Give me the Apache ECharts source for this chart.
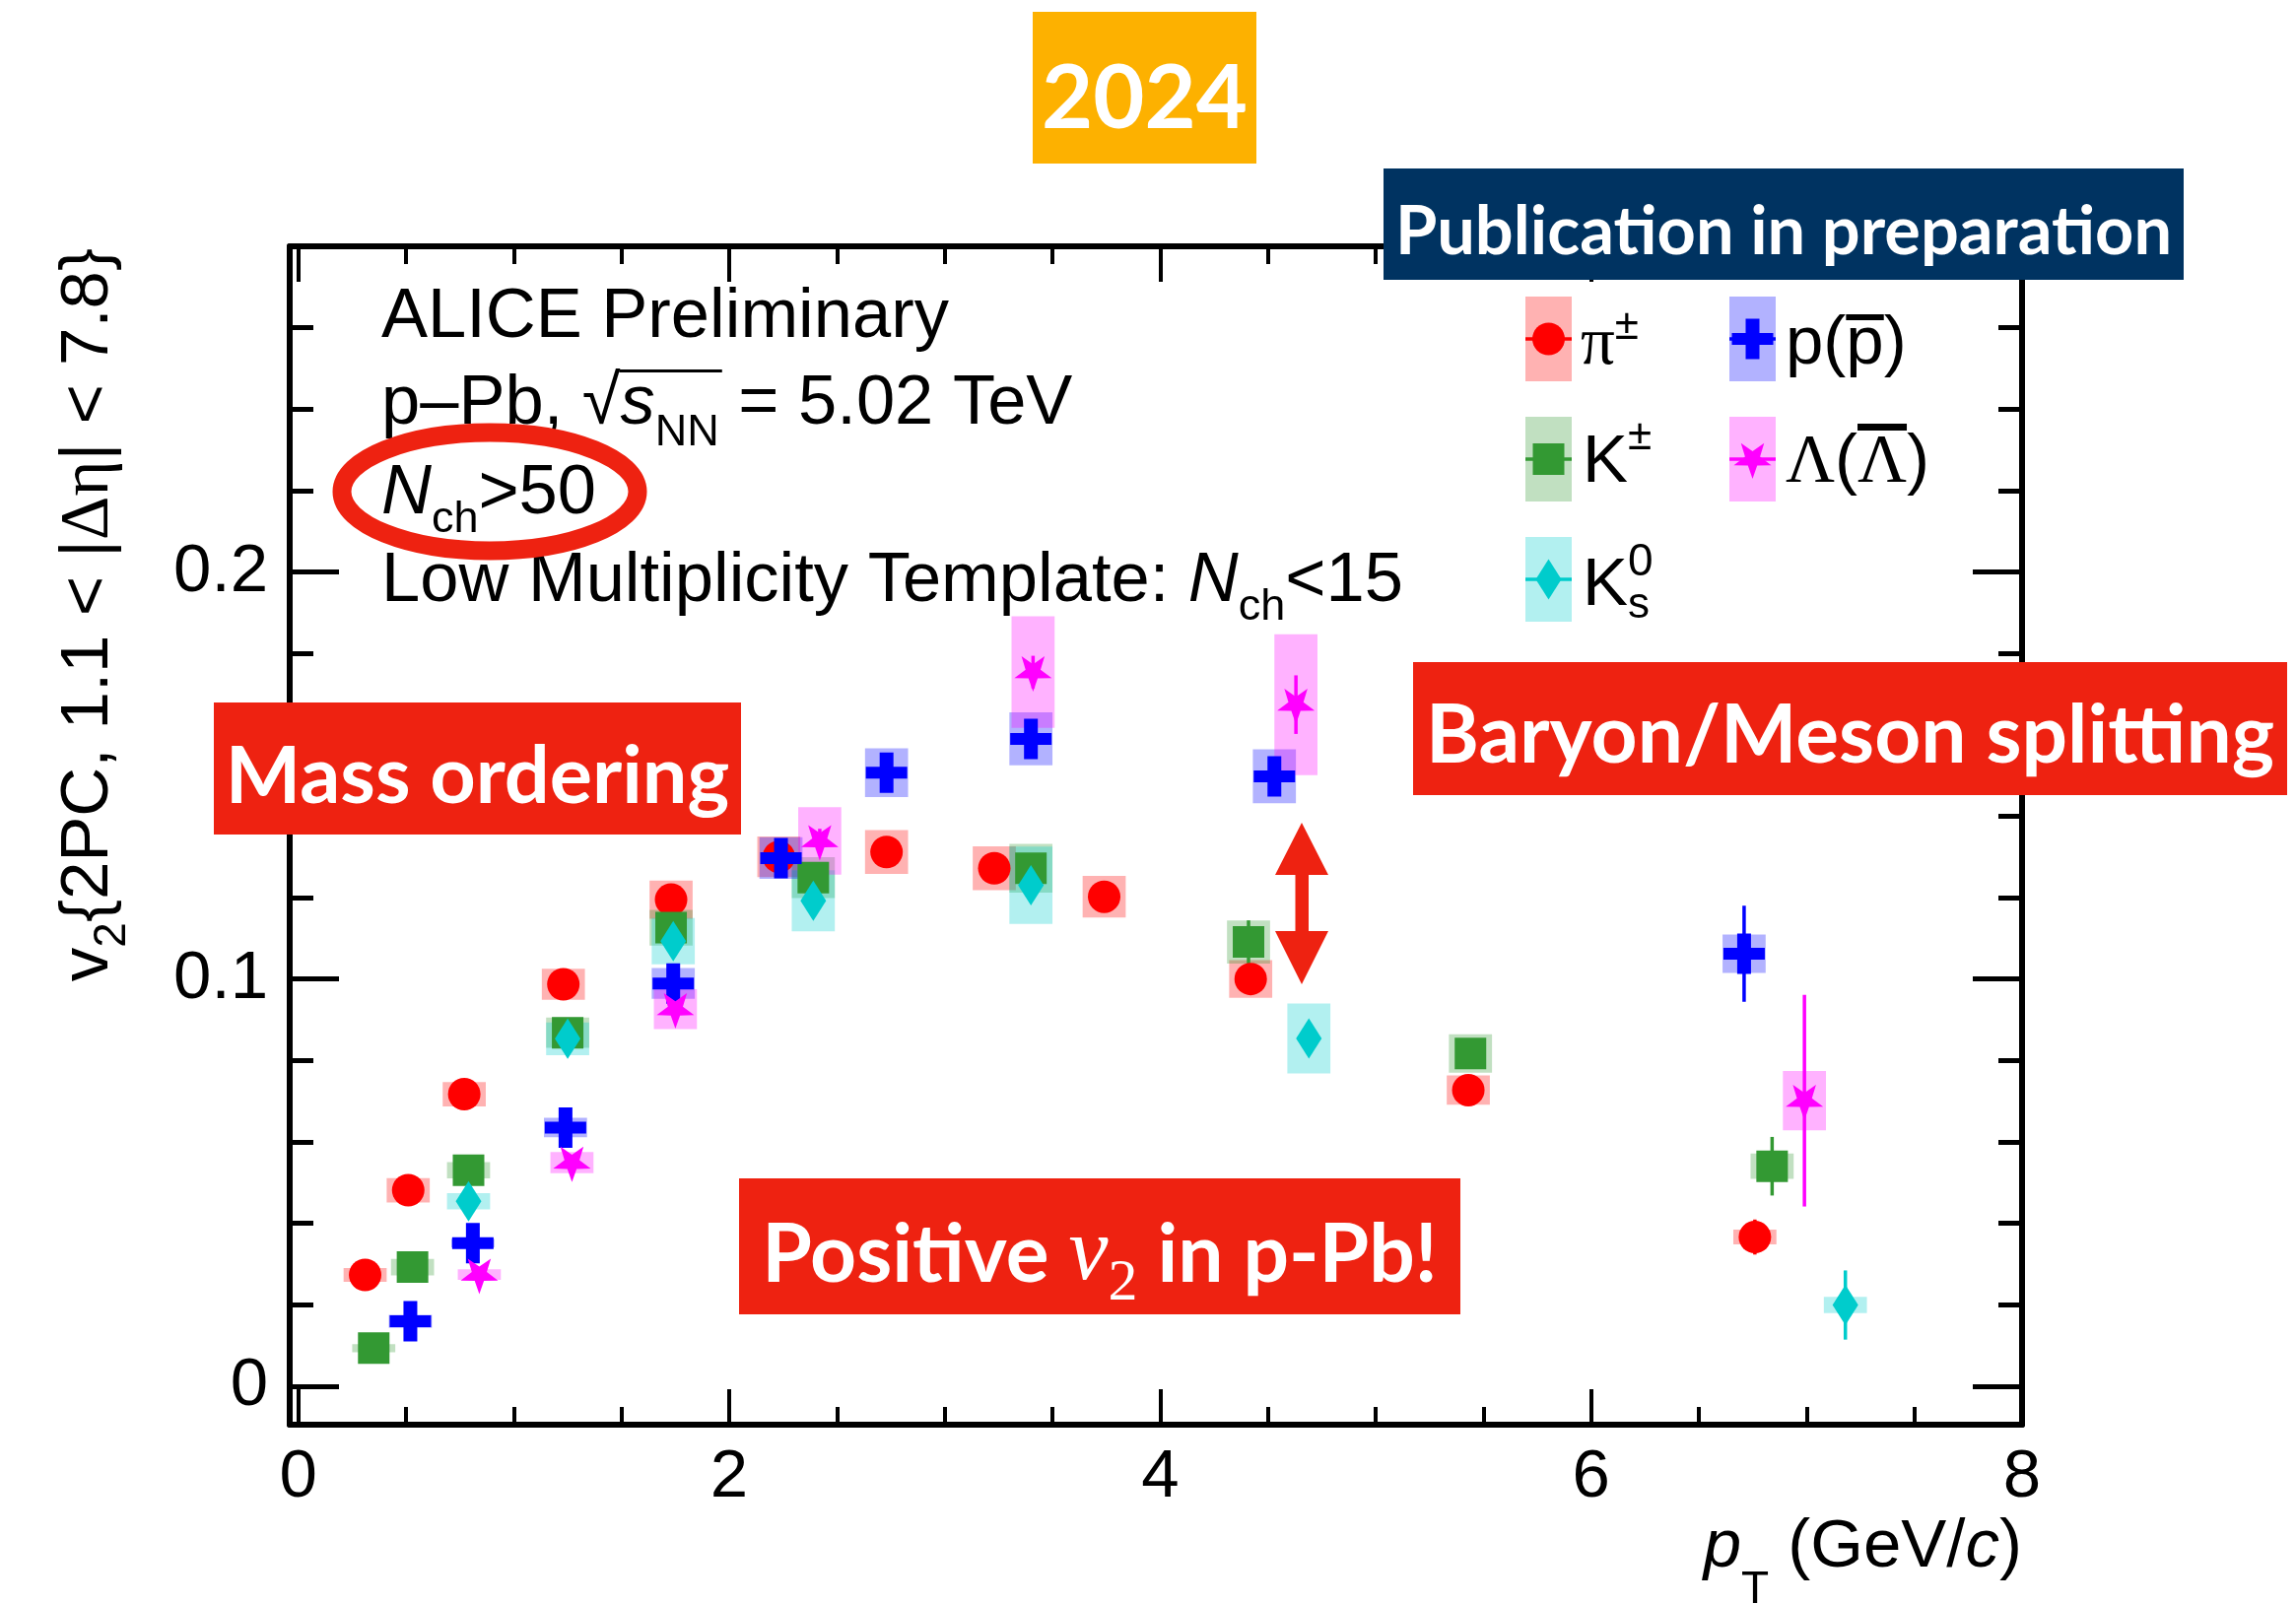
<!DOCTYPE html>
<html>
<head>
<meta charset="utf-8">
<title>ALICE v2 p-Pb</title>
<script src="https://cdn.jsdelivr.net/npm/echarts@6/dist/echarts.min.js"></script>
<style>
html,body{margin:0;padding:0;background:#ffffff;}
#chart{width:2330px;height:1628px;}
</style>
</head>
<body>
<div id="chart"></div>
<script>
// ================= DATA =================
const xTickValues = [0, 2, 4, 6, 8];
const xTickLabels = ['0', '2', '4', '6', '8'];
const xMinorTicks = [0.5, 1, 1.5, 2.5, 3, 3.5, 4.5, 5, 5.5, 6.5, 7, 7.5];
const yTickValues = [0, 0.1, 0.2];
const yTickLabels = ['0', '0.1', '0.2'];
const yMinorTicks = [0.02, 0.04, 0.06, 0.08, 0.12, 0.14, 0.16, 0.18, 0.22, 0.24, 0.26];

// pi+-
const piPt   = [0.31, 0.51, 0.77, 1.23, 1.73, 2.23, 2.73, 3.23, 3.74, 4.42, 5.43, 6.76];
const piV2   = [0.0273, 0.0481, 0.0717, 0.0987, 0.1195, 0.1300, 0.1312, 0.1272, 0.1202, 0.1000, 0.0727, 0.0366];
const piStat = [0.0005, 0.0006, 0.0007, 0.0008, 0.0010, 0.0012, 0.0014, 0.0017, 0.0020, 0.0025, 0.0030, 0.0043];
const piSys  = [0.0017, 0.0030, 0.0030, 0.0038, 0.0047, 0.0050, 0.0054, 0.0054, 0.0051, 0.0046, 0.0036, 0.0018];
// K+-
const kchPt   = [0.35, 0.53, 0.79, 1.25, 1.73, 2.39, 3.40, 4.41, 5.44, 6.84];
const kchV2   = [0.0093, 0.0292, 0.0530, 0.0868, 0.1126, 0.1249, 0.1272, 0.1091, 0.0817, 0.0540];
const kchStat = [0.0005, 0.0006, 0.0008, 0.0010, 0.0012, 0.0015, 0.0020, 0.0053, 0.0030, 0.0072];
const kchSys  = [0.0010, 0.0020, 0.0020, 0.0037, 0.0044, 0.0050, 0.0060, 0.0053, 0.0047, 0.0031];
// K0s
const k0Pt   = [0.79, 1.25, 1.74, 2.39, 3.40, 4.69, 7.18];
const k0V2   = [0.0454, 0.0853, 0.1093, 0.1192, 0.1230, 0.0854, 0.0199];
const k0Stat = [0.0010, 0.0015, 0.0020, 0.0025, 0.0030, 0.0040, 0.0085];
const k0Sys  = [0.0020, 0.0040, 0.0057, 0.0075, 0.0095, 0.0086, 0.0020];
// p(pbar)
const pPt   = [0.52, 0.81, 1.24, 1.74, 2.24, 2.73, 3.40, 4.53, 6.71];
const pV2   = [0.0159, 0.0351, 0.0635, 0.0989, 0.1297, 0.1507, 0.1590, 0.1498, 0.1062];
const pStat = [0.0008, 0.0010, 0.0012, 0.0015, 0.0020, 0.0025, 0.0030, 0.0045, 0.0118];
const pSys  = [0.0016, 0.0010, 0.0024, 0.0038, 0.0051, 0.0060, 0.0065, 0.0066, 0.0047];
// Lambda
const lamPt   = [0.84, 1.27, 1.75, 2.42, 3.41, 4.63, 6.99];
const lamV2   = [0.0274, 0.0549, 0.0926, 0.1339, 0.1754, 0.1674, 0.0701];
const lamStat = [0.0010, 0.0015, 0.0020, 0.0030, 0.0040, 0.0072, 0.0260];
const lamSys  = [0.0013, 0.0026, 0.0049, 0.0083, 0.0137, 0.0173, 0.0073];

const legendLabels = ['π±', 'K±', 'K0s', 'p(p̄)', 'Λ(Λ̄)'];

// ================= STYLE =================
const XMIN = -0.04, XMAX = 8, YMIN = -0.0095, YMAX = 0.28;
const BOX_HALF = 0.1;           // half width of systematic boxes (GeV/c)
const SANS = 'Liberation Sans', SERIF = 'Liberation Serif', LATO = 'Lato';
const KB = {'Liberation Sans': 0.29, 'Liberation Serif': 0.28, 'Lato': 0.31};
const LINE = 100;

function rgba(hex, a) {
  const n = parseInt(hex.slice(1), 16);
  return 'rgba(' + ((n >> 16) & 255) + ',' + ((n >> 8) & 255) + ',' + (n & 255) + ',' + a + ')';
}
function starPts(R, r) {
  const p = [];
  for (let k = 0; k < 10; k++) {
    const a = (90 + 36 * k) * Math.PI / 180, rad = k % 2 === 0 ? R : r;
    p.push([+(rad * Math.cos(a)).toFixed(2), +(rad * Math.sin(a)).toFixed(2)]);
  }
  return p;
}
const CROSS_PTS = [[-7,-20.5],[7,-20.5],[7,-6],[21,-6],[21,6],[7,6],[7,20.5],[-7,20.5],[-7,6],[-21,6],[-21,-6],[-7,-6]];
const STAR_PTS = starPts(20, 8);
const DIAMOND_PTS = [[0,-20.5],[13,0],[0,20.5],[-13,0]];
function toPath(pts) { return 'path://M' + pts.map(p => p.join(',')).join(' L') + ' Z'; }

const species = [
  {pt: piPt,  v2: piV2,  stat: piStat,  sys: piSys,  color: '#ff0000', symbol: 'circle',  size: 33, offset: [0,0]},
  {pt: kchPt, v2: kchV2, stat: kchStat, sys: kchSys, color: '#339933', symbol: 'rect',    size: 32, offset: [0,0]},
  {pt: k0Pt,  v2: k0V2,  stat: k0Stat,  sys: k0Sys,  color: '#00cccc', symbol: 'diamond', size: [26,41], offset: [0,0]},
  {pt: pPt,   v2: pV2,   stat: pStat,   sys: pSys,   color: '#0000ff', symbol: toPath(CROSS_PTS), size: [42,41], offset: [0,0]},
  {pt: lamPt, v2: lamV2, stat: lamStat, sys: lamSys, color: '#ff00ff', symbol: toPath(STAR_PTS), size: [38,36], offset: [0,1.9]}
];
species.forEach((s, i) => s.name = legendLabels[i]);

// ---------- series ----------
const series = [];
species.forEach(s => {
  series.push({
    type: 'custom', name: s.name + ' syst', z: 1, silent: true,
    encode: {x: 0, y: 1},
    data: s.pt.map((x, i) => [x, s.v2[i], s.sys[i]]),
    renderItem: (params, api) => {
      const x = api.value(0), y = api.value(1), e = api.value(2);
      const a = api.coord([x - BOX_HALF, y + e]), b = api.coord([x + BOX_HALF, y - e]);
      return {type: 'rect', shape: {x: a[0], y: a[1], width: b[0] - a[0], height: b[1] - a[1]},
              style: {fill: rgba(s.color, 0.3)}};
    }
  });
});
species.forEach(s => {
  series.push({
    type: 'custom', name: s.name + ' stat', z: 2, silent: true,
    encode: {x: 0, y: 1},
    data: s.pt.map((x, i) => [x, s.v2[i], s.stat[i]]),
    renderItem: (params, api) => {
      const x = api.value(0), y = api.value(1), e = api.value(2);
      const a = api.coord([x, y + e]), b = api.coord([x, y - e]);
      return {type: 'line', shape: {x1: a[0], y1: a[1], x2: b[0], y2: b[1]},
              style: {stroke: s.color, lineWidth: 3.5}};
    }
  });
});
species.forEach(s => {
  series.push({
    type: 'scatter', name: s.name, z: 3, silent: true,
    symbol: s.symbol, symbolSize: s.size, symbolOffset: s.offset,
    itemStyle: {color: s.color, opacity: 1},
    data: s.pt.map((x, i) => [x, s.v2[i]])
  });
});

// ---------- text helpers ----------
function tok(fs, fam, shift, mainFs, mainFam, extra) {
  const d = 2 * (shift - KB[fam] * fs + KB[mainFam] * mainFs);
  const st = {fontSize: fs, fontFamily: fam, lineHeight: LINE, verticalAlign: 'middle',
              padding: d >= 0 ? [d, 0, 0, 0] : [0, 0, -d, 0]};
  return Object.assign(st, extra || {});
}
function richText(x, baseline, content, rich, mainFs, mainFam, opt) {
  opt = opt || {};
  return {type: 'text', z: 100, x: x, y: baseline - LINE / 2 - KB[mainFam] * mainFs,
    style: Object.assign({text: content, rich: rich, fontSize: mainFs, fontFamily: mainFam,
      lineHeight: LINE, fill: opt.fill || '#000', align: opt.align || 'left', verticalAlign: 'top'},
      opt.style || {})};
}
const mctx = document.createElement('canvas').getContext('2d');
function mw(t, fs, fam, style, weight) {
  mctx.font = (style || 'normal') + ' ' + (weight || 'normal') + ' ' + fs + 'px "' + fam + '"';
  return mctx.measureText(t);
}

const graphics = [];
// ---------- annotation boxes ----------
function boxWithText(x, y, w, h, fill, text, fs, baseline) {
  graphics.push({type: 'rect', z: 100, shape: {x: x, y: y, width: w, height: h}, style: {fill: fill}});
  if (text !== null) {
    graphics.push({type: 'text', z: 101, x: x + w / 2, y: baseline - LINE / 2 - KB[LATO] * fs,
      style: {text: text, fontSize: fs, fontFamily: LATO, fontWeight: 'bold', fill: '#ffffff',
              align: 'center', verticalAlign: 'top', lineHeight: LINE}});
  }
}
boxWithText(1048, 12, 227, 154, '#fdb100', '2024', 90, 129);
boxWithText(1404, 171, 812, 113, '#003361', 'Publication in preparation', 68.5, 257);
boxWithText(217, 713, 535, 134, '#ee2211', 'Mass ordering', 81, 814);
boxWithText(1434, 672, 887, 135, '#ee2211', 'Baryon/Meson splitting', 82, 773);
boxWithText(750, 1196, 732, 138, '#ee2211', null, 82, 0);
graphics.push(richText(1116, 1300, '{b|Positive }{v|v}{s|2}{b| in p-Pb!}', {
  b: {fontSize: 82, fontFamily: LATO, fontWeight: 'bold', fill: '#fff', lineHeight: LINE, verticalAlign: 'middle'},
  v: tok(90, SERIF, 0, 82, LATO, {fontStyle: 'italic', fill: '#fff'}),
  s: tok(60, SERIF, 20, 82, LATO, {fill: '#fff'})
}, 82, LATO, {align: 'center', fill: '#fff'}));

// ---------- ALICE text ----------
const FS = 69, TFS = 70.5, TX = 387;
const mainRich = {
  m: tok(TFS, SANS, 0, TFS, SANS, {fill: '#000'}),
  i: tok(TFS, SANS, 0, TFS, SANS, {fill: '#000', fontStyle: 'italic'}),
  sub: tok(45, SANS, 19, TFS, SANS, {fill: '#000'}),
  subNN: tok(45, SANS, 22, TFS, SANS, {fill: '#000'})
};
graphics.push(richText(TX, 343, '{m|ALICE Preliminary}', mainRich, TFS, SANS));
graphics.push(richText(TX, 431, '{m|p–Pb, √}{i|s}{subNN|NN}{m| = 5.02 TeV}', mainRich, TFS, SANS));
graphics.push(richText(TX, 522, '{i|N}{sub|ch}{m|>50}', mainRich, TFS, SANS));
graphics.push(richText(TX, 611, '{m|Low Multiplicity Template: }{i|N}{sub|ch}{m|<15}', mainRich, TFS, SANS));
// sqrt vinculum
(function () {
  const w1 = mw('p–Pb, ', TFS, SANS).width;
  const msq = mw('√', TFS, SANS);
  const ws = mw('s', TFS, SANS, 'italic').width;
  const wnn = mw('NN', 45, SANS).width;
  const top = 431 - (msq.actualBoundingBoxAscent || 0.9 * TFS);
  const x0 = TX + w1 + (msq.actualBoundingBoxRight || msq.width) - 1.5;
  const x1 = TX + w1 + msq.width + ws + wnn + 3;
  graphics.push({type: 'line', z: 100, shape: {x1: x0, y1: top + 1.5, x2: x1, y2: top + 1.5},
                 style: {stroke: '#000', lineWidth: 3}});
})();
// ellipse around N_ch>50
graphics.push({type: 'ellipse', z: 102, shape: {cx: 497, cy: 499, rx: 150, ry: 60},
               style: {fill: 'none', stroke: '#ee2211', lineWidth: 19}});
// double arrow
graphics.push({type: 'polygon', z: 100, shape: {points: [[1321,835],[1348,888],[1328,888],[1328,945],[1348,945],[1321,999],[1294,945],[1314.5,945],[1314.5,888],[1294,888]]},
               style: {fill: '#ee2211'}});

// ---------- legend ----------
const LEG = [
  {cx: 1571.5, cy: 344, tx: 1604, tb: 370},
  {cx: 1571.5, cy: 466, tx: 1606, tb: 490},
  {cx: 1571.5, cy: 588, tx: 1606, tb: 615},
  {cx: 1778.5, cy: 344, tx: 1812, tb: 370},
  {cx: 1778.5, cy: 466, tx: 1812, tb: 490}
];
function shiftPts(pts, cx, cy) { return pts.map(p => [p[0] + cx, p[1] + cy]); }
species.forEach((s, i) => {
  const L = LEG[i];
  graphics.push({type: 'rect', z: 100, shape: {x: L.cx - 23.5, y: L.cy - 43, width: 47, height: 86}, style: {fill: rgba(s.color, 0.3)}});
  graphics.push({type: 'line', z: 100, shape: {x1: L.cx - 23.5, y1: L.cy, x2: L.cx + 23.5, y2: L.cy}, style: {stroke: s.color, lineWidth: 3.3}});
  let mk;
  if (i === 0) mk = {type: 'circle', shape: {cx: L.cx, cy: L.cy, r: 16.5}};
  else if (i === 1) mk = {type: 'rect', shape: {x: L.cx - 16, y: L.cy - 16, width: 32, height: 32}};
  else if (i === 2) mk = {type: 'polygon', shape: {points: shiftPts(DIAMOND_PTS, L.cx, L.cy)}};
  else if (i === 3) mk = {type: 'polygon', shape: {points: shiftPts(CROSS_PTS, L.cx, L.cy)}};
  else mk = {type: 'polygon', shape: {points: shiftPts(STAR_PTS, L.cx, L.cy)}};
  mk.z = 101; mk.style = {fill: s.color};
  graphics.push(mk);
});
const legRich = {
  m: tok(FS, SANS, 0, FS, SANS, {fill: '#000'}),
  g: tok(FS, SERIF, 0, FS, SANS, {fill: '#000'}),
  upPi: tok(44, SANS, -25, FS, SANS, {fill: '#000'}),
  upK: tok(44, SANS, -33, FS, SANS, {fill: '#000'}),
  up0: tok(46, SANS, -30, FS, SANS, {fill: '#000'}),
  dnS: tok(44, SANS, 13, FS, SANS, {fill: '#000'})
};
graphics.push(richText(LEG[0].tx, LEG[0].tb, '{g|π}{upPi|±}', legRich, FS, SANS));
graphics.push(richText(LEG[1].tx, LEG[1].tb, '{m|K}{upK|±}', legRich, FS, SANS));
graphics.push(richText(LEG[2].tx, LEG[2].tb, '{m|K}{up0|0}', legRich, FS, SANS));
graphics.push(richText(LEG[2].tx + mw('K', FS, SANS).width, LEG[2].tb, '{dnS|s}', legRich, FS, SANS));
graphics.push(richText(LEG[3].tx, LEG[3].tb, '{m|p(p)}', legRich, FS, SANS));
graphics.push(richText(LEG[4].tx, LEG[4].tb, '{g|Λ}{m|(}{g|Λ}{m|)}', legRich, FS, SANS));
(function () {
  const a = LEG[3].tx + mw('p(', FS, SANS).width, b = a + mw('p', FS, SANS).width;
  graphics.push({type: 'rect', z: 100, shape: {x: a, y: 319, width: b - a, height: 6}, style: {fill: '#000'}});
  const c = LEG[4].tx + mw('Λ', FS, SERIF).width + mw('(', FS, SANS).width, d = c + mw('Λ', FS, SERIF).width;
  graphics.push({type: 'rect', z: 100, shape: {x: c, y: 430, width: d - c, height: 7}, style: {fill: '#000'}});
})();

// ---------- axes ----------
function xAx(pos, values, len, main) {
  const ax = {type: 'value', min: XMIN, max: XMAX, position: pos,
    axisLine: {show: !!main, onZero: false, lineStyle: {color: '#000', width: 6}},
    axisTick: {show: true, inside: true, length: len, customValues: values, lineStyle: {color: '#000', width: 4}},
    axisLabel: {show: false}, splitLine: {show: false}, minorTick: {show: false}};
  return ax;
}
function yAx(pos, values, len, main) {
  return {type: 'value', min: YMIN, max: YMAX, position: pos,
    axisLine: {show: !!main, onZero: false, lineStyle: {color: '#000', width: 6}},
    axisTick: {show: true, inside: true, length: len, customValues: values, lineStyle: {color: '#000', width: 5}},
    axisLabel: {show: false}, splitLine: {show: false}, minorTick: {show: false}};
}
const xBottom = xAx('bottom', xTickValues, 36, true);
xBottom.axisLabel = {show: true, customValues: xTickValues,
  formatter: v => xTickLabels[xTickValues.indexOf(v)] ?? '',
  color: '#000', fontSize: 69, fontFamily: SANS, margin: 19};
xBottom.name = '{i|p}{t|T}{m| (GeV/}{i|c}{m|)}';
xBottom.nameLocation = 'end';
xBottom.nameGap = 0;
xBottom.nameMoveOverlap = false;
xBottom.nameTextStyle = {color: '#000', fontSize: FS, fontFamily: SANS, lineHeight: LINE,
  align: 'right', verticalAlign: 'top', padding: [145 - LINE / 2 - KB[SANS] * FS, 0, 0, 0],
  rich: {
    i: tok(FS, SANS, 0, FS, SANS, {color: '#000', fontStyle: 'italic'}),
    t: tok(46, SANS, 37, FS, SANS, {color: '#000'}),
    m: tok(FS, SANS, 0, FS, SANS, {color: '#000'})
  }};
const yLeft = yAx('left', yTickValues, 50, true);
yLeft.axisLabel = {show: true, customValues: yTickValues,
  formatter: v => yTickLabels[yTickValues.indexOf(v)] ?? '',
  color: '#000', fontSize: 69, fontFamily: SANS, margin: 22};
yLeft.name = '{v|v}{s|2}{m|{2PC, 1.1 < |}{g|Δη}{m|| < 7.8}}';
yLeft.nameLocation = 'end';
yLeft.nameRotate = 90;
yLeft.nameGap = -2;
yLeft.nameMoveOverlap = false;
yLeft.nameTextStyle = {color: '#000', fontSize: FS, fontFamily: SANS, lineHeight: LINE,
  align: 'right', verticalAlign: 'middle', padding: [0, 0, 2 * (184 + KB[SANS] * FS), 0],
  rich: {
    v: tok(FS, SANS, 0, FS, SANS, {color: '#000'}),
    s: tok(46, SANS, 18, FS, SANS, {color: '#000'}),
    m: tok(FS, SANS, 0, FS, SANS, {color: '#000'}),
    g: tok(FS, SERIF, 0, FS, SANS, {color: '#000'})
  }};

const option = {
  animation: false,
  backgroundColor: '#ffffff',
  grid: {left: 294, right: 278, top: 250, bottom: 182, containLabel: false, outerBoundsMode: 'none'},
  xAxis: [xBottom, xAx('bottom', xMinorTicks, 18, false), xAx('top', xTickValues, 36, true), xAx('top', xMinorTicks, 18, false)],
  yAxis: [yLeft, yAx('left', yMinorTicks, 24, false), yAx('right', yTickValues, 50, true), yAx('right', yMinorTicks, 24, false)],
  series: series,
  graphic: {elements: graphics}
};
const chart = echarts.init(document.getElementById('chart'), null, {renderer: 'canvas', width: 2330, height: 1628});
chart.setOption(option);
</script>
</body>
</html>
